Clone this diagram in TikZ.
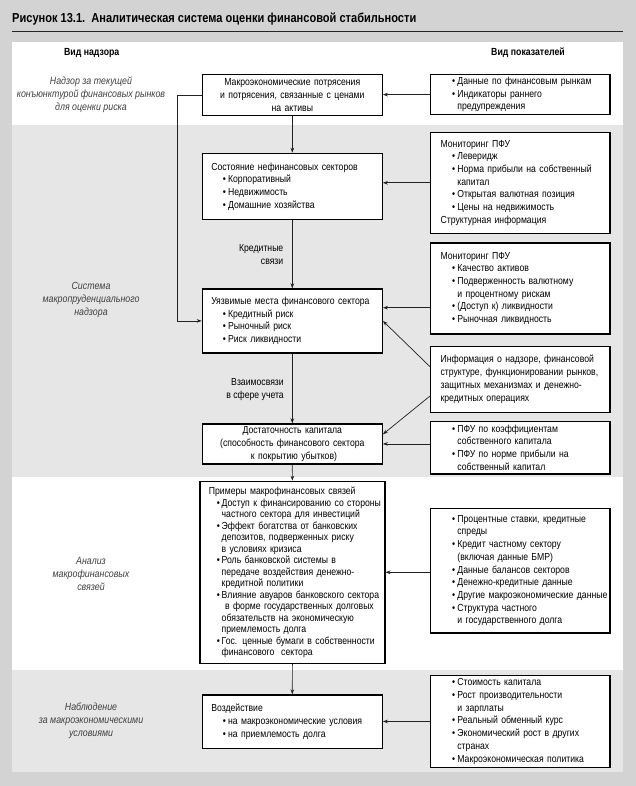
\documentclass[tikz,border=0pt]{standalone}
\usepackage{fontspec}
\setmainfont{Liberation Sans}[FakeStretch=0.85]
\usetikzlibrary{arrows.meta}
\setlength\parindent{0pt}
\hbadness=10000 \hfuzz=100pt
\definecolor{outergray}{HTML}{D3D3D3}
\definecolor{bandgray}{HTML}{E6E6E6}
\definecolor{ink}{HTML}{222222}
\newcommand\pl[1]{\mbox{#1}}
\newcommand\itm[1]{\hspace*{11.5pt}\makebox[5.3pt][l]{•}\mbox{#1}}
\newcommand\cnt[1]{\hspace*{16.8pt}\mbox{#1}}
\newcommand\itmb[1]{\hspace*{8pt}\makebox[4.8pt][l]{•}\mbox{#1}}
\newcommand\cntb[1]{\hspace*{12.8pt}\mbox{#1}}
\tikzset{
  box/.style={draw=black, line width=1.2pt, fill=white, anchor=north west,
    inner xsep=9pt, inner ysep=0pt, align=left,
    font=\fontsize{10.2}{12.7}\selectfont},
  mbox/.style={box, text width=162pt},
  rbox/.style={box, inner xsep=10pt, text width=159.3pt},
  hdr/.style={inner sep=0pt, font=\fontsize{10.3}{12}\selectfont\bfseries},
  side/.style={inner sep=0pt, align=center, text=black!75,
    font=\fontsize{10.4}{12.9}\selectfont\itshape},
  lbl/.style={inner sep=0pt, anchor=east, align=right,
    font=\fontsize{10.2}{12.7}\selectfont},
  arr/.style={draw=ink, line width=0.7pt, -{Stealth[length=5pt,width=3.6pt]}},
}
\begin{document}
\begin{tikzpicture}[x=1pt, y=-1pt]
\useasboundingbox (0,0) rectangle (636,786);
\fill[outergray] (0,0) rectangle (636,786);
\fill[white] (11.7,41.7) rectangle (622.7,125);
\fill[bandgray] (11.7,125) rectangle (622.7,477.3);
\fill[white] (11.7,477.3) rectangle (622.7,670);
\fill[bandgray] (11.7,670) rectangle (622.7,771.7);

\node[anchor=west, inner sep=0pt, font=\fontsize{13}{15}\selectfont\bfseries] (title) at (12,19.3)
  {Рисунок 13.1.\ \ Аналитическая система оценки финансовой стабильности};
\draw[line width=0.8pt, black!85] (12,31) -- (622.7,31);

\node[hdr] (h1) at (91.7,52.7) {Вид надзора};
\node[hdr] (h2) at (528,52.7) {Вид показателей};

\node[side] (s1) at (91,94.5) {Надзор за текущей\\конъюнктурой финансовых рынков\\для оценки риска};
\node[side] (s2) at (91,299.7) {Система\\макропруденциального\\надзора};
\node[side] (s3) at (91,573.8) {Анализ\\макрофинансовых\\связей};
\node[side] (s4) at (91,721) {Наблюдение\\за макроэкономическими\\условиями};

% central column
\node[mbox, align=center, minimum height=41pt] (b1) at (201.7,74)
  {\pl{Макроэкономические потрясения}\\\pl{и потрясения, связанные с ценами}\\\pl{на активы}};
\node[mbox, minimum height=66.6pt] (b2) at (201.7,152.7)
  {\pl{Состояние нефинансовых секторов}\\\itm{Корпоративный}\\\itm{Недвижимость}\\\itm{Домашние хозяйства}};
\node[mbox, minimum height=64pt] (b3) at (201.7,288.3)
  {\pl{Уязвимые места финансового сектора}\\\itm{Кредитный риск}\\\itm{Рыночный риск}\\\itm{Риск ликвидности}};
\node[mbox, align=center, minimum height=40pt] (b4) at (201.7,423.3)
  {\pl{Достаточность капитала}\\\pl{(способность финансового сектора}\\\pl{\ к покрытию убытков)}};
\node[box, text width=167pt, minimum height=182pt, font=\fontsize{10.2}{11.5}\selectfont] (b5) at (199.3,480.7)
  {\pl{Примеры макрофинансовых связей}\\
   \itmb{Доступ к финансированию со стороны}\\
   \cntb{частного сектора для инвестиций}\\
   \itmb{Эффект богатства от банковских}\\
   \cntb{депозитов, подверженных риску}\\
   \cntb{в условиях кризиса}\\
   \itmb{Роль банковской системы в}\\
   \cntb{передаче воздействия денежно-}\\
   \cntb{кредитной политики}\\
   \itmb{Влияние авуаров банковского сектора}\\
   \cntb{\ в форме государственных долговых}\\
   \cntb{обязательств на экономическую}\\
   \cntb{приемлемость долга}\\
   \itmb{Гос. ценные бумаги в собственности}\\
   \cntb{финансового\ \ сектора}};
\node[mbox, minimum height=53.4pt] (b6) at (201.7,694.3)
  {\pl{Воздействие}\\\itm{на макроэкономические условия}\\\itm{на приемлемость долга}};

% right column
\node[rbox, minimum height=40pt] (rb1) at (430,74)
  {\itm{Данные по финансовым рынкам}\\\itm{Индикаторы раннего}\\\cnt{предупреждения}};
\node[rbox, minimum height=101pt] (rb2) at (430,131.7)
  {\pl{Мониторинг ПФУ}\\\itm{Леверидж}\\\itm{Норма прибыли на собственный}\\\cnt{капитал}\\\itm{Открытая валютная позиция}\\\itm{Цены на недвижимость}\\\pl{Структурная информация}};
\node[rbox, minimum height=91pt] (rb3) at (430,242.3)
  {\pl{Мониторинг ПФУ}\\\itm{Качество активов}\\\itm{Подверженность валютному}\\\cnt{и процентному рискам}\\\itm{(Доступ к) ликвидности}\\\itm{Рыночная ликвидность}};
\node[rbox, minimum height=66pt] (rb4) at (430,345.7)
  {\pl{Информация о надзоре, финансовой}\\\pl{структуре, функционировании рынков,}\\\pl{защитных механизмах и денежно-}\\\pl{кредитных операциях}};
\node[rbox, minimum height=52.6pt] (rb5) at (430,420.7)
  {\itm{ПФУ по коэффициентам}\\\cnt{собственного капитала}\\\itm{ПФУ по норме прибыли на}\\\cnt{собственный капитал}};
\node[rbox, minimum height=124.6pt] (rb6) at (430,507.7)
  {\itm{Процентные ставки, кредитные}\\\cnt{спреды}\\\itm{Кредит частному сектору}\\\cnt{(включая данные БМР)}\\\itm{Данные балансов секторов}\\\itm{Денежно-кредитные данные}\\\itm{Другие макроэкономические данные}\\\itm{Структура частного}\\\cnt{и государственного долга}};
\node[rbox, minimum height=91.7pt] (rb7) at (430,675)
  {\itm{Стоимость капитала}\\\itm{Рост производительности}\\\cnt{и зарплаты}\\\itm{Реальный обменный курс}\\\itm{Экономический рост в других}\\\cnt{странах}\\\itm{Макроэкономическая политика}};

% connector labels
\node[lbl] (k1) at (283.5,254.2) {Кредитные\\связи};
\node[lbl] (k2) at (284,389.2) {Взаимосвязи\\в сфере учета};

% connectors
\draw[arr] (rb1.west) -- (b1.east |- rb1.west);
\draw[arr] (b1.west) -- ++(-24.4,0) |- (b3.west);
\draw[arr] (b1.south) -- (b2.north);
\draw[arr] (rb2.west) -- (b2.east |- rb2.west);
\draw[arr] (b2.south) -- (b3.north);
\draw[arr] (rb3.west |- 0,307.7) -- (b3.east |- 0,307.7);
\draw[arr] (rb4.west |- 0,366.7) -- (b3.east);
\draw[arr] (rb4.west |- 0,396) -- (b4.east |- 0,434.3);
\draw[arr] (b3.south) -- (b4.north);
\draw[arr] (rb5.west |- b4.east) -- (b4.east);
\draw[arr] (b4.south) -- (b5.north);
\draw[arr] (rb6.west |- b5.east) -- (b5.east);
\draw[arr] (b5.south) -- (b6.north);
\draw[arr] (rb7.west) -- (b6.east |- rb7.west);
\end{tikzpicture}
\end{document}
